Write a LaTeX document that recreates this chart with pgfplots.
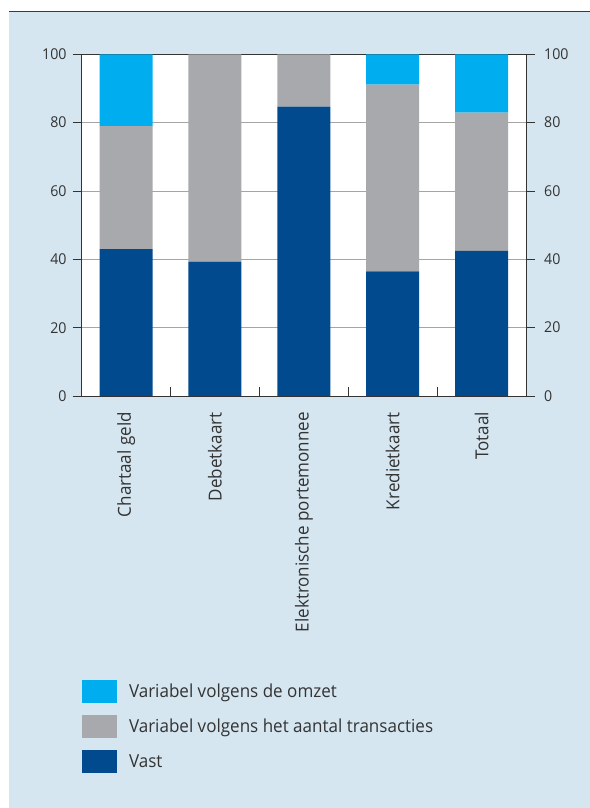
\documentclass[border=0pt]{standalone}
\usepackage{fontspec}
\setmainfont{Open Sans}[FakeStretch=0.95]
\usepackage{pgfplots}
\pgfplotsset{compat=1.18}
\definecolor{lblue}{HTML}{00AEEF}
\definecolor{mgrey}{HTML}{A7A9AC}
\definecolor{dblue}{HTML}{004A8D}
\definecolor{bg}{HTML}{D5E6F0}
\definecolor{txt}{HTML}{333333}
\definecolor{gridc}{HTML}{A5A5A5}
\begin{document}
\begin{tikzpicture}
\useasboundingbox (0,0) rectangle (590bp,808bp);
\fill[bg] (9bp,0) rectangle (590bp,796bp);
\draw[dblue, line width=1.4bp] (9bp,796.5bp) -- (590bp,796.5bp);
\begin{axis}[
  at={(81.7bp,412bp)}, anchor=south west,
  scale only axis, width=444.3bp, height=341.7bp,
  xmin=-0.5, xmax=4.5, ymin=0, ymax=100,
  ybar stacked, bar width=53bp,
  axis background/.style={fill=white},
  axis line style={txt, line width=0.9bp},
  every tick/.style={txt, line width=0.9bp},
  major tick length=9bp,
  xtick={0.5,1.5,2.5,3.5}, xticklabels={},
  xtick align=inside, xtick pos=bottom,
  extra x ticks={0,1,2,3,4},
  extra x tick labels={Chartaal geld, Debetkaart, Elektronische portemonnee, Kredietkaart, Totaal},
  extra x tick style={major tick length=0pt, grid=none},
  x tick label style={rotate=90, anchor=east, inner sep=0pt, font=\fontsize{18}{20}\selectfont, text=txt},
  xticklabel shift=16bp,
  ytick={0,20,...,100}, ytick align=outside, ytick pos=left,
  y tick label style={inner sep=0pt, xshift=-6bp, font=\fontsize{15}{17}\selectfont, text=txt},
  /pgf/number format/assume math mode=true,
  ymajorgrids, grid style={gridc, line width=0.9bp},
  reverse legend,
  legend cell align=left,
  legend image code/.code={\fill[#1] (0bp,-11.5bp) rectangle (35bp,11.5bp);},
  legend style={at={(axis description cs:0.0007,-0.831)}, anchor=north west,
    draw=none, fill=none, inner sep=0pt, outer sep=0pt,
    font=\fontsize{18}{20}\selectfont, text=txt,
    row sep=12bp, nodes={inner sep=0pt},
    /tikz/every odd column/.append style={column sep=12bp}},
]
\addplot[fill=dblue, draw=none] coordinates {(0,43.0) (1,39.3) (2,84.7) (3,36.5) (4,42.5)};
\addplot[fill=mgrey, draw=none] coordinates {(0,36.0) (1,60.7) (2,15.3) (3,54.6) (4,40.4)};
\addplot[fill=lblue, draw=none] coordinates {(0,21.0) (1,0) (2,0) (3,8.9) (4,17.1)};
\legend{Vast, Variabel volgens het aantal transacties, Variabel volgens de omzet}
\end{axis}
\begin{axis}[
  at={(81.7bp,412bp)}, anchor=south west,
  scale only axis, width=444.3bp, height=341.7bp,
  xmin=-0.5, xmax=4.5, ymin=0, ymax=100,
  axis x line=none, axis y line*=right,
  axis line style={txt, line width=0.9bp},
  every tick/.style={txt, line width=0.9bp},
  major tick length=9bp,
  ytick={0,20,...,100}, ytick align=outside,
  y tick label style={inner sep=0pt, xshift=9bp, font=\fontsize{15}{17}\selectfont, text=txt},
  /pgf/number format/assume math mode=true,
]
\addplot[draw=none] coordinates {(0,0)};
\end{axis}
\end{tikzpicture}
\end{document}
